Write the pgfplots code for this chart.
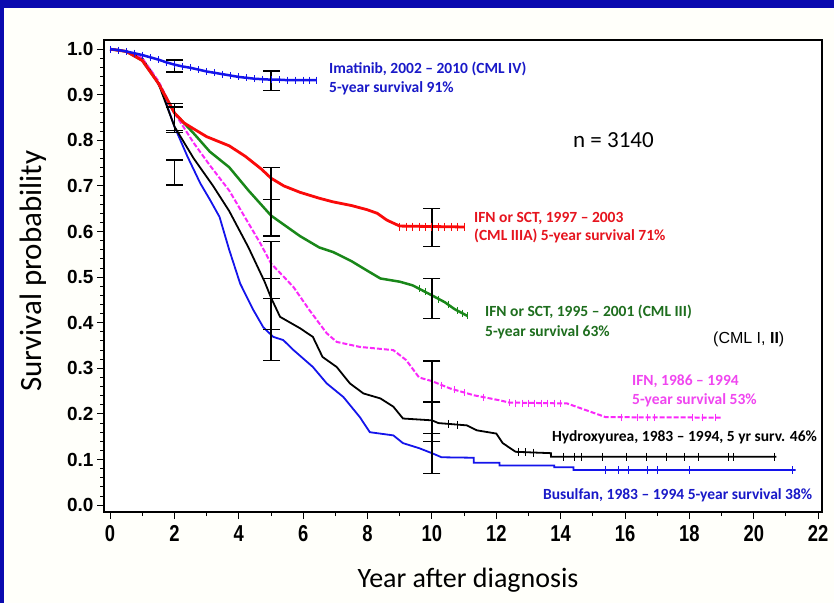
\documentclass[border=0pt]{standalone}
\usepackage{pgfplots}
\pgfplotsset{compat=1.18}
\usepackage{fontspec}
\setmainfont{Carlito}
\newfontfamily\arialfont{Liberation Sans}
\newfontfamily\arialnarrow[FakeStretch=0.8]{Liberation Sans}

\definecolor{cmlblue}{RGB}{20,20,235}
\definecolor{cmlred}{RGB}{250,10,10}
\definecolor{cmlgreen}{RGB}{25,135,25}
\definecolor{cmlmag}{RGB}{250,40,250}
\definecolor{txtblue}{RGB}{25,25,200}
\definecolor{txtred}{RGB}{230,20,30}
\definecolor{txtgreen}{RGB}{30,110,30}
\definecolor{txtmag}{RGB}{240,70,240}
\definecolor{frameblue}{RGB}{10,10,175}
\definecolor{bg}{RGB}{255,255,250}

\newcommand\xtickfont{\arialnarrow\bfseries\fontsize{23}{23}\selectfont}
\newcommand\ytickfont{\arialfont\bfseries\fontsize{19}{19}\selectfont}
\newcommand\annfont{\bfseries\fontsize{15.5}{18}\selectfont}

\begin{document}
\begin{tikzpicture}
\useasboundingbox (0,0) rectangle (834pt,603pt);
\fill[bg] (0,0) rectangle (834pt,603pt);
\fill[frameblue] (0,595pt) rectangle (834pt,603pt);
\fill[frameblue] (0,0) rectangle (4pt,603pt);

\begin{axis}[
    at={(104pt,91pt)}, anchor=south west,
    width=718pt, height=472pt, scale only axis,
    xmin=-0.19, xmax=22.12, ymin=-0.015, ymax=1.02,
    axis background/.style={fill=white},
    axis line style={line width=1.8pt, black},
    tick align=outside, xtick pos=left, ytick pos=left,
    xtick={0,2,4,6,8,10,12,14,16,18,20,22},
    xticklabels={0,2,4,6,8,10,12,14,16,18,20,22},
    ytick={0,0.1,0.2,0.3,0.4,0.5,0.6,0.7,0.8,0.9,1},
    yticklabels={0.0,0.1,0.2,0.3,0.4,0.5,0.6,0.7,0.8,0.9,1.0},
    minor x tick num=1, minor y tick num=4,
    major tick length=7pt, minor tick length=4pt,
    every tick/.style={black, line width=1pt},
    xticklabel style={font=\xtickfont, yshift=-3pt},
    yticklabel style={font=\ytickfont},
    xlabel={Year after diagnosis},
    ylabel={Survival probability},
    every axis x label/.style={at={(axis description cs:0.507,-0.144)}, anchor=center, font=\fontsize{28}{28}\selectfont},
    every axis y label/.style={at={(axis description cs:-0.099,0.51)}, anchor=center, rotate=90, font=\fontsize{31}{31}\selectfont},
    unbounded coords=jump,
]
% Busulfan
\addplot[cmlblue, line width=1.8pt] coordinates {
(0,1.0) (0.5,0.995) (1.0,0.975) (1.3,0.95) (1.6,0.91) (2.0,0.83) (2.4,0.765)
(2.8,0.706) (3.1,0.67) (3.4,0.632) (3.7,0.56) (4.04,0.486) (4.45,0.428)
(4.76,0.39) (5.07,0.369) (5.38,0.362) (5.7,0.34) (6.3,0.303) (6.73,0.267)
(7.25,0.237) (7.76,0.193) (8.07,0.16) (8.8,0.153) (9.1,0.136) (9.6,0.125)
(10.0,0.114) (10.3,0.105) (11.3,0.104) (11.3,0.093) (12.1,0.093) (12.1,0.087)
(13.8,0.087) (13.8,0.083) (14.4,0.083) (14.4,0.077) (21.3,0.077)
};
\addplot[cmlblue, line width=1pt, only marks, mark=|, mark size=4pt] coordinates {
(15.4,0.077) (15.8,0.077) (16.1,0.077) (16.7,0.077) (17.0,0.077) (18.0,0.077) (21.2,0.077)
};
% Hydroxyurea
\addplot[black, line width=1.8pt] coordinates {
(0,1.0) (0.5,0.995) (1.0,0.98) (1.5,0.925) (2.0,0.83) (2.6,0.76) (3.2,0.70)
(3.7,0.645) (4.3,0.565) (4.8,0.49) (5.0,0.455) (5.28,0.413) (5.9,0.388)
(6.3,0.369) (6.6,0.325) (7.04,0.303) (7.45,0.267) (7.87,0.245) (8.4,0.234)
(8.8,0.216) (9.1,0.19) (10.0,0.186) (10.2,0.18) (11.08,0.175) (11.4,0.164)
(12.0,0.157) (12.2,0.136) (12.6,0.117) (13.7,0.114) (13.7,0.106) (20.7,0.106)
};
\addplot[black, line width=1pt, only marks, mark=|, mark size=4pt] coordinates {
(10.5,0.178) (10.8,0.176) (12.7,0.117) (12.9,0.116) (13.15,0.115) (14.08,0.106)
(14.44,0.106) (14.65,0.106) (15.3,0.106) (16.05,0.106) (16.67,0.106) (17.29,0.106)
(17.86,0.106) (18.27,0.106) (19.2,0.106) (19.36,0.106) (20.65,0.106)
};
% IFN 1986-1994
\addplot[cmlmag, line width=2pt, dash pattern=on 5pt off 2pt] coordinates {
(0,1.0) (0.5,0.995) (1.0,0.98) (1.5,0.93) (2.0,0.86) (2.6,0.794) (3.1,0.745)
(3.7,0.69) (4.2,0.63) (4.66,0.575) (5.0,0.53) (5.5,0.493) (5.7,0.478)
(6.2,0.427) (6.73,0.377) (7.04,0.358) (7.76,0.347) (8.8,0.34) (9.2,0.318)
(9.6,0.28) (10.0,0.272) (10.56,0.256) (11.3,0.241) (12.1,0.23) (12.4,0.225)
(14.2,0.223) (14.8,0.208) (15.4,0.193) (19.0,0.192)
};
\addplot[cmlmag, line width=1pt, only marks, mark=|, mark size=3.5pt] coordinates {
(10.3,0.263) (10.7,0.254) (11.0,0.247) (11.6,0.237) (12.4,0.225) (12.6,0.224)
(12.8,0.224) (13.0,0.224) (13.2,0.224) (13.4,0.224) (13.6,0.224) (13.8,0.224)
(14.0,0.224) (15.9,0.193) (16.4,0.193) (16.7,0.193) (16.9,0.193) (18.1,0.193)
(18.4,0.193) (18.8,0.193)
};
% IFN or SCT 1995-2001
\addplot[cmlgreen, line width=2.5pt] coordinates {
(0,1.0) (0.5,0.995) (1.0,0.975) (1.5,0.925) (2.0,0.86) (2.6,0.815) (3.1,0.775)
(3.7,0.741) (4.3,0.69) (5.0,0.635) (5.9,0.59) (6.5,0.565) (6.93,0.555)
(7.5,0.535) (7.97,0.515) (8.4,0.497) (9.0,0.49) (9.4,0.482) (10.0,0.46)
(10.4,0.445) (10.7,0.43) (11.1,0.415)
};
\addplot[cmlgreen, line width=1pt, only marks, mark=|, mark size=3.5pt] coordinates {
(9.6,0.476) (9.8,0.468) (10.2,0.452) (10.5,0.441) (10.8,0.427) (10.95,0.421) (11.1,0.415)
};
% IFN or SCT 1997-2003
\addplot[cmlred, line width=2.8pt] coordinates {
(0,1.0) (0.5,0.995) (1.0,0.975) (1.5,0.925) (2.0,0.86) (2.3,0.838) (2.6,0.825)
(3.0,0.808) (3.7,0.788) (4.2,0.765) (4.7,0.737) (5.0,0.717) (5.4,0.700)
(5.9,0.686) (6.5,0.673) (6.93,0.665) (7.5,0.657) (7.98,0.648) (8.3,0.64)
(8.6,0.625) (9.0,0.612) (11.0,0.61)
};
\addplot[cmlred, line width=1pt, only marks, mark=|, mark size=4pt] coordinates {
(9.0,0.611) (9.2,0.611) (9.4,0.611) (9.6,0.611) (9.8,0.611) (10.0,0.611)
(10.2,0.611) (10.4,0.611) (10.6,0.611) (10.8,0.611) (11.0,0.611)
};
% Imatinib
\addplot[cmlblue, line width=2.5pt, mark=|, mark size=3.5pt, mark options={line width=1pt}] coordinates {
(0,1.0) (0.25,0.998) (0.5,0.995) (0.75,0.991) (1.0,0.987) (1.25,0.982)
(1.5,0.977) (1.75,0.971) (2.0,0.966) (2.25,0.962) (2.5,0.959) (2.75,0.955)
(3.0,0.951) (3.25,0.948) (3.5,0.945) (3.75,0.942) (4.0,0.939) (4.25,0.937)
(4.5,0.935) (4.75,0.934) (5.0,0.933) (5.25,0.933) (5.5,0.932) (5.75,0.932)
(6.0,0.932) (6.2,0.932) (6.4,0.932)
};
% confidence bars
\addplot[black, line width=1.2pt, mark=-, mark size=8.5pt] coordinates {
(2,0.950) (2,0.976) (2,nan)
(2,0.822) (2,0.881) (2,nan)
(2,0.817) (2,0.873) (2,nan)
(2,0.702) (2,0.757) (2,nan)
(5,0.909) (5,0.952) (5,nan)
(5,0.67) (5,0.74) (5,nan)
(5,0.59) (5,0.67) (5,nan)
(5,0.497) (5,0.579) (5,nan)
(5,0.386) (5,0.497) (5,nan)
(5,0.318) (5,0.454) (5,nan)
(10,0.568) (10,0.651) (10,nan)
(10,0.41) (10,0.497) (10,nan)
(10,0.226) (10,0.316) (10,nan)
(10,0.14) (10,0.226) (10,nan)
(10,0.07) (10,0.158)
};
\end{axis}

\node[anchor=base west, text=txtblue, font=\annfont, inner sep=0pt] at (329pt,529pt) {Imatinib, 2002 -- 2010 (CML IV)};
\node[anchor=base west, text=txtblue, font=\annfont, inner sep=0pt] at (329pt,510pt) {5-year survival 91\%};
\node[anchor=base west, font=\fontsize{23}{23}\selectfont, inner sep=0pt] at (573pt,455pt) {n = 3140};
\node[anchor=base west, text=txtred, font=\annfont, inner sep=0pt] at (474pt,380pt) {IFN or SCT, 1997 -- 2003};
\node[anchor=base west, text=txtred, font=\annfont, inner sep=0pt] at (474pt,362pt) {(CML IIIA) 5-year survival 71\%};
\node[anchor=base west, text=txtgreen, font=\annfont, inner sep=0pt] at (485pt,287pt) {IFN or SCT, 1995 -- 2001 (CML III)};
\node[anchor=base west, text=txtgreen, font=\annfont, inner sep=0pt] at (485pt,267pt) {5-year survival 63\%};
\node[anchor=base west, font=\arialfont\fontsize{16}{16}\selectfont, inner sep=0pt] at (713pt,260pt) {(CML I, \textbf{II})};
\node[anchor=base west, text=txtmag, font=\annfont, inner sep=0pt] at (632pt,218pt) {IFN, 1986 -- 1994};
\node[anchor=base west, text=txtmag, font=\annfont, inner sep=0pt] at (632pt,199pt) {5-year survival 53\%};
\node[anchor=base west, text=black, font=\annfont, inner sep=0pt] at (552pt,162pt) {Hydroxyurea, 1983 -- 1994, 5 yr surv. 46\%};
\node[anchor=base west, text=txtblue, font=\annfont, inner sep=0pt] at (543pt,104pt) {Busulfan, 1983 -- 1994 5-year survival 38\%};
\end{tikzpicture}
\end{document}
